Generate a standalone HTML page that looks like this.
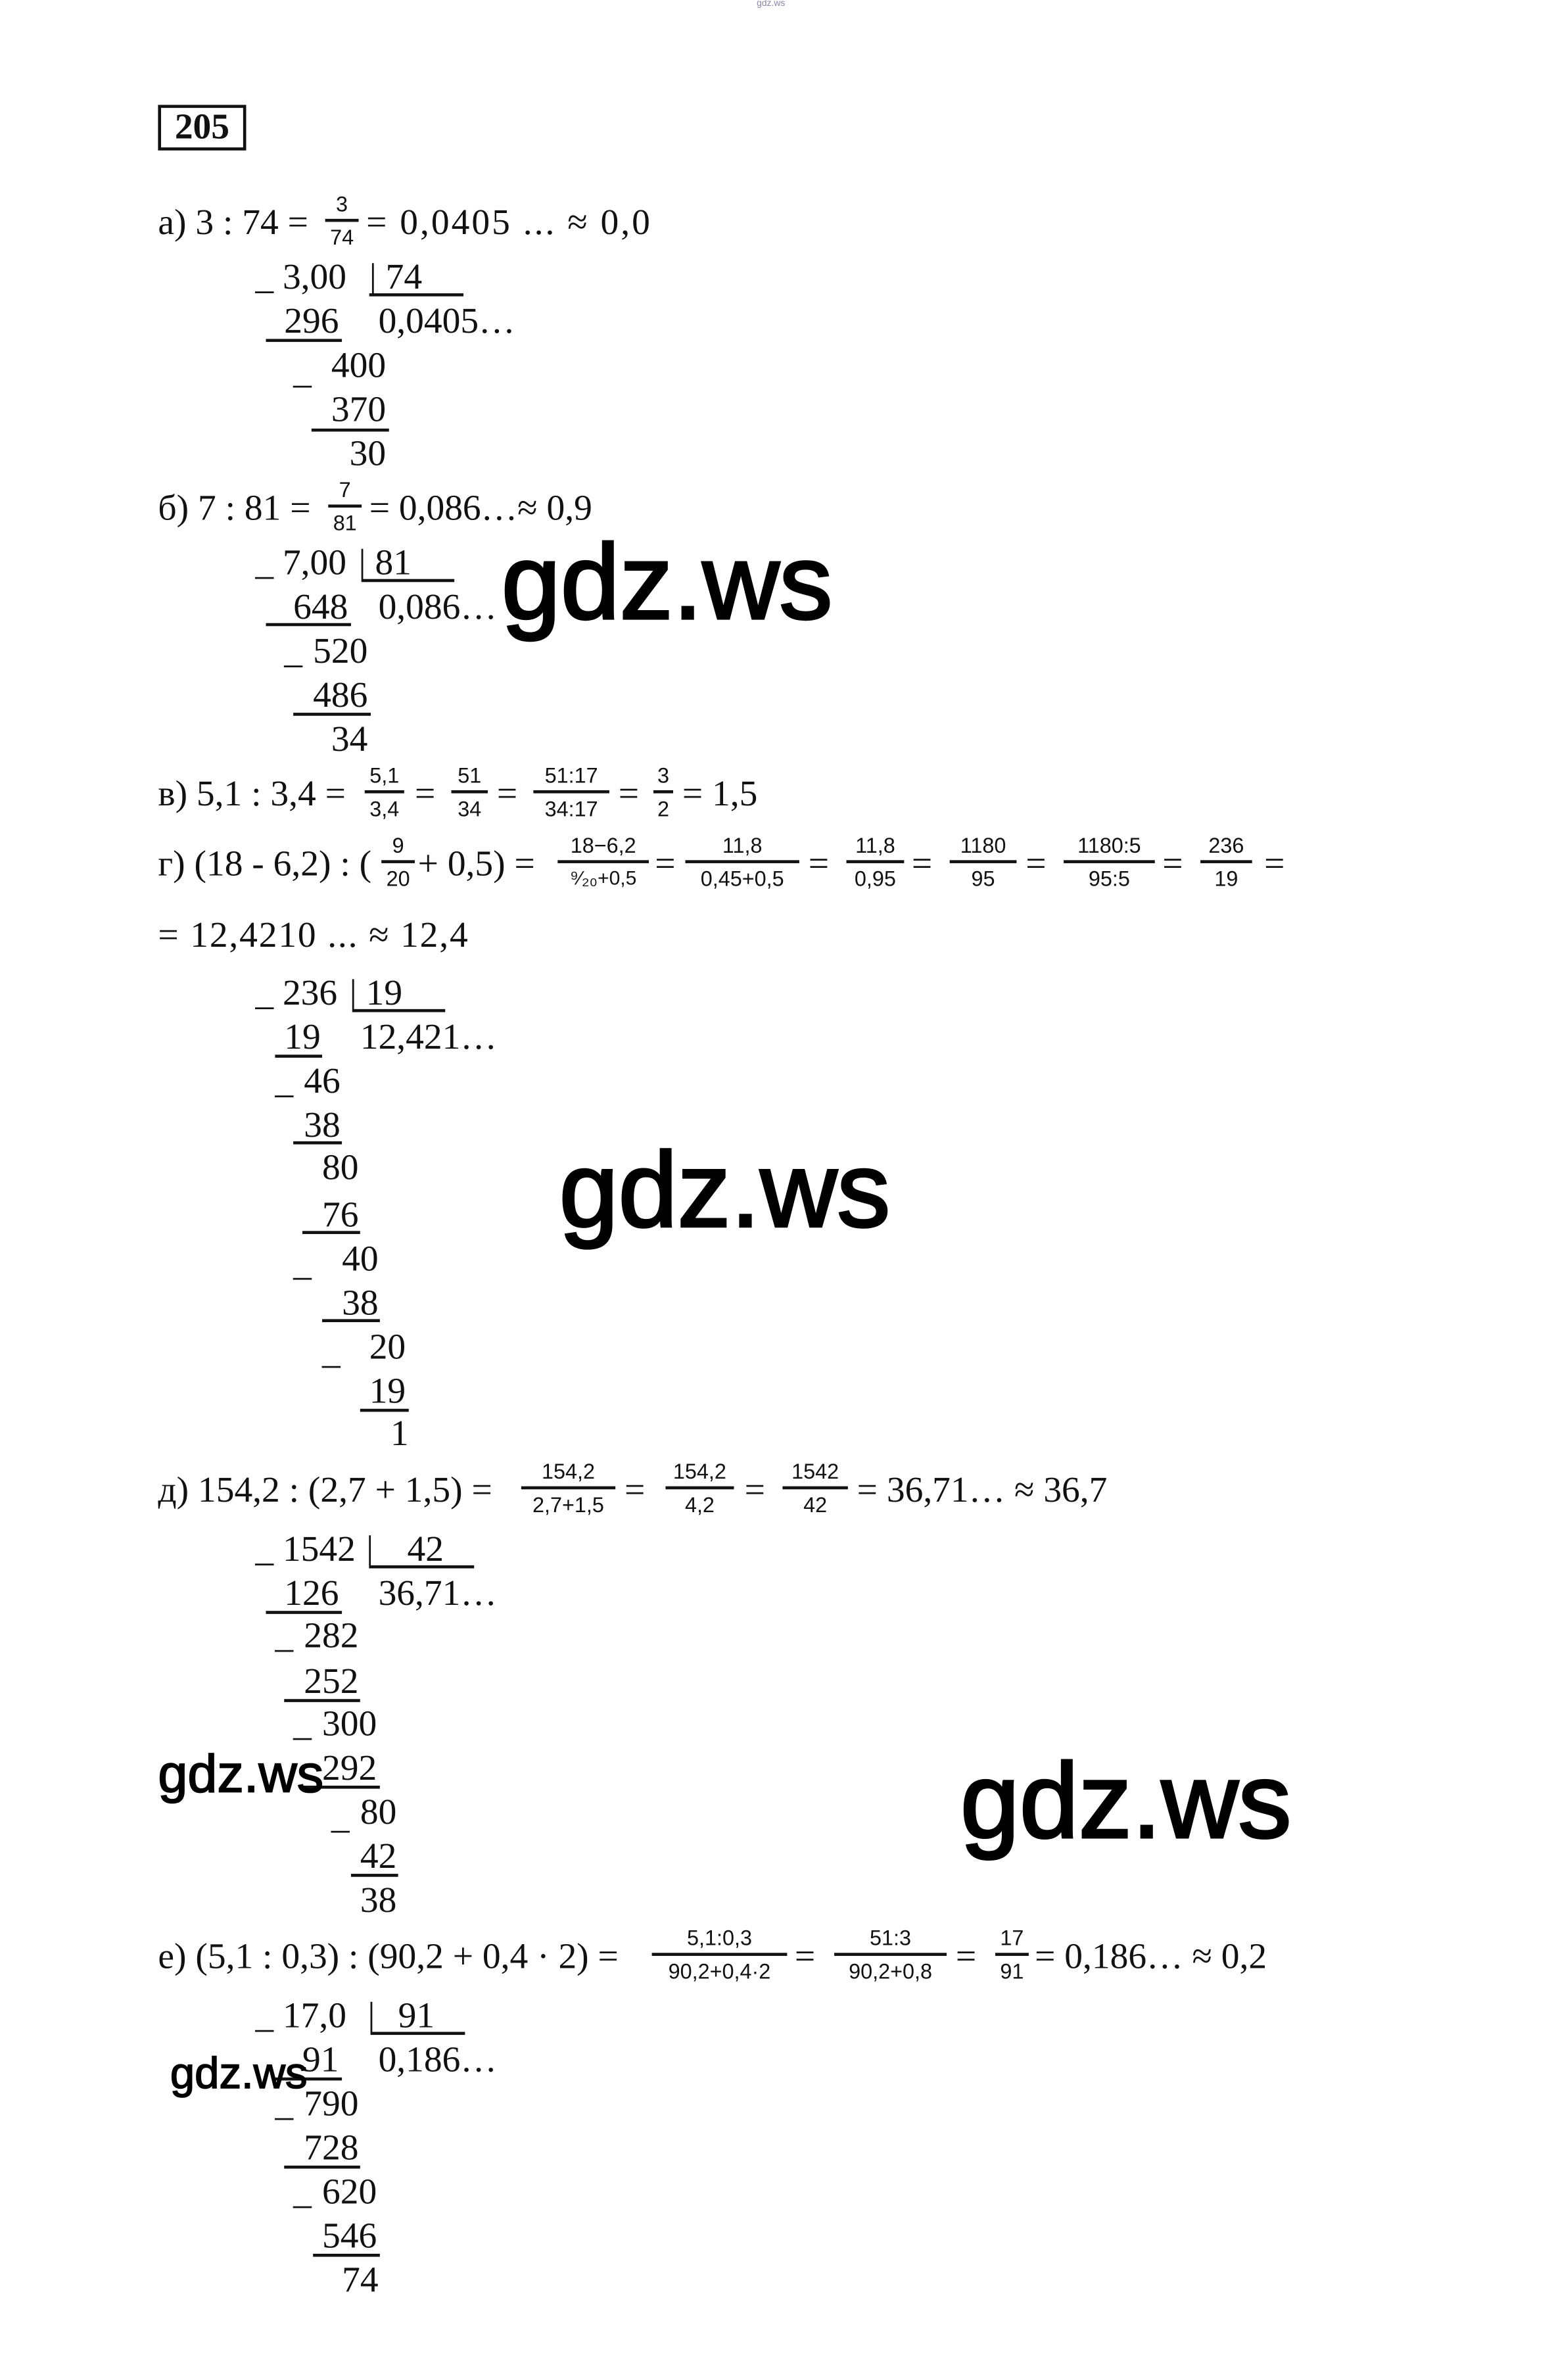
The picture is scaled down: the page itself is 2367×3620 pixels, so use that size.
<!DOCTYPE html>
<html><head><meta charset="utf-8">
<style>
html,body{margin:0;padding:0;background:#fff;}
body{width:2367px;height:3619px;overflow:hidden;position:relative;}
#c{position:absolute;left:0;top:0;width:1024px;height:1566px;transform:scale(2.3115);transform-origin:0 0;font-family:"Liberation Serif",serif;color:#111;}
.t{position:absolute;font-size:24px;line-height:24px;white-space:pre;}
.u{position:absolute;height:1.5px;background:#111;}
.f{position:absolute;display:flex;flex-direction:column;align-items:center;font-family:"Liberation Sans",sans-serif;font-size:14px;line-height:16px;}
.f b{display:block;height:2px;background:#111;width:100%;margin:2px 0;}
.w{position:absolute;font-family:"Liberation Sans",sans-serif;color:#000;white-space:pre;-webkit-text-stroke:1.6px #000;}
</style></head><body><div id="c">
<div class="w" style="left:498px;top:0px;font-size:6px;color:#88a;-webkit-text-stroke:0">gdz.ws</div>
<div style="position:absolute;left:104px;top:69px;width:54px;height:26px;border:2px solid #111;font-weight:bold;font-size:24px;line-height:26px;text-align:center">205</div>

<!-- a -->
<div class="t" style="left:104px;top:135px">а) 3 : 74 =</div>
<div class="f" style="left:214px;top:126px;width:22px"><span>3</span><b></b><span>74</span></div>
<div class="t" style="left:241px;top:135px;letter-spacing:1.3px">= 0,0405 ... ≈ 0,0</div>
<div class="t" style="left:168px;top:171px">_ 3,00</div><div class="t" style="left:243px;top:171px">| 74</div><div class="u" style="left:243px;top:193px;width:62px"></div>
<div class="t" style="left:187px;top:200px">296</div><div class="u" style="left:175px;top:223px;width:50px"></div><div class="t" style="left:249px;top:200px">0,0405…</div>
<div class="t" style="left:193px;top:233px">_</div><div class="t" style="left:218px;top:229px">400</div>
<div class="t" style="left:218px;top:258px">370</div><div class="u" style="left:205px;top:282px;width:51px"></div>
<div class="t" style="left:230px;top:287px">30</div>

<!-- b -->
<div class="t" style="left:104px;top:323px">б) 7 : 81 =</div>
<div class="f" style="left:216px;top:314px;width:22px"><span>7</span><b></b><span>81</span></div>
<div class="t" style="left:243px;top:323px">= 0,086…≈ 0,9</div>
<div class="t" style="left:168px;top:359px">_ 7,00</div><div class="t" style="left:236px;top:359px">| 81</div><div class="u" style="left:238px;top:381px;width:61px"></div>
<div class="t" style="left:193px;top:388px">648</div><div class="u" style="left:175px;top:410px;width:56px"></div><div class="t" style="left:249px;top:388px">0,086…</div>
<div class="t" style="left:187px;top:417px">_</div><div class="t" style="left:206px;top:417px">520</div>
<div class="t" style="left:206px;top:446px">486</div><div class="u" style="left:193px;top:469px;width:51px"></div>
<div class="t" style="left:218px;top:475px">34</div>
<div class="w" style="left:330px;top:343px;font-size:70px;line-height:80px">gdz.ws</div>

<!-- v -->
<div class="t" style="left:104px;top:511px">в) 5,1 : 3,4 =</div>
<div class="f" style="left:240px;top:502px;width:26px"><span>5,1</span><b></b><span>3,4</span></div>
<div class="t" style="left:273px;top:511px">=</div>
<div class="f" style="left:297px;top:502px;width:24px"><span>51</span><b></b><span>34</span></div>
<div class="t" style="left:327px;top:511px">=</div>
<div class="f" style="left:351px;top:502px;width:50px"><span>51:17</span><b></b><span>34:17</span></div>
<div class="t" style="left:407px;top:511px">=</div>
<div class="f" style="left:430px;top:502px;width:13px"><span>3</span><b></b><span>2</span></div>
<div class="t" style="left:449px;top:511px">= 1,5</div>

<!-- g -->
<div class="t" style="left:104px;top:557px">г) (18 - 6,2) : (</div>
<div class="f" style="left:251px;top:548px;width:22px"><span>9</span><b></b><span>20</span></div>
<div class="t" style="left:275px;top:557px">+ 0,5) =</div>
<div class="f" style="left:367px;top:548px;width:60px"><span>18−6,2</span><b></b><span style="font-size:13px">⁹⁄₂₀+0,5</span></div>
<div class="t" style="left:431px;top:557px">=</div>
<div class="f" style="left:451px;top:548px;width:75px"><span>11,8</span><b></b><span>0,45+0,5</span></div>
<div class="t" style="left:532px;top:557px">=</div>
<div class="f" style="left:557px;top:548px;width:38px"><span>11,8</span><b></b><span>0,95</span></div>
<div class="t" style="left:600px;top:557px">=</div>
<div class="f" style="left:625px;top:548px;width:44px"><span>1180</span><b></b><span>95</span></div>
<div class="t" style="left:675px;top:557px">=</div>
<div class="f" style="left:700px;top:548px;width:60px"><span>1180:5</span><b></b><span>95:5</span></div>
<div class="t" style="left:765px;top:557px">=</div>
<div class="f" style="left:790px;top:548px;width:34px"><span>236</span><b></b><span>19</span></div>
<div class="t" style="left:832px;top:557px">=</div>
<div class="t" style="left:104px;top:604px;letter-spacing:0.8px">= 12,4210 ... ≈ 12,4</div>

<div class="t" style="left:168px;top:642px">_ 236</div><div class="t" style="left:230px;top:642px">| 19</div><div class="u" style="left:232px;top:664px;width:61px"></div>
<div class="t" style="left:187px;top:671px">19</div><div class="u" style="left:181px;top:694px;width:31px"></div><div class="t" style="left:237px;top:671px">12,421…</div>
<div class="t" style="left:181px;top:700px">_</div><div class="t" style="left:200px;top:700px">46</div>
<div class="t" style="left:200px;top:729px">38</div><div class="u" style="left:193px;top:751px;width:32px"></div>
<div class="t" style="left:212px;top:757px">80</div>
<div class="t" style="left:212px;top:788px">76</div><div class="u" style="left:199px;top:810px;width:38px"></div>
<div class="t" style="left:193px;top:820px">_</div><div class="t" style="left:225px;top:817px">40</div>
<div class="t" style="left:225px;top:846px">38</div><div class="u" style="left:212px;top:868px;width:38px"></div>
<div class="t" style="left:212px;top:878px">_</div><div class="t" style="left:243px;top:875px">20</div>
<div class="t" style="left:243px;top:904px">19</div><div class="u" style="left:237px;top:927px;width:32px"></div>
<div class="t" style="left:257px;top:932px">1</div>
<div class="w" style="left:368px;top:743px;font-size:70px;line-height:80px">gdz.ws</div>

<!-- d -->
<div class="t" style="left:104px;top:969px">д) 154,2 : (2,7 + 1,5) =</div>
<div class="f" style="left:343px;top:960px;width:62px"><span>154,2</span><b></b><span>2,7+1,5</span></div>
<div class="t" style="left:411px;top:969px">=</div>
<div class="f" style="left:438px;top:960px;width:45px"><span>154,2</span><b></b><span>4,2</span></div>
<div class="t" style="left:490px;top:969px">=</div>
<div class="f" style="left:515px;top:960px;width:43px"><span>1542</span><b></b><span>42</span></div>
<div class="t" style="left:564px;top:969px">= 36,71… ≈ 36,7</div>
<div class="t" style="left:168px;top:1008px">_ 1542</div><div class="t" style="left:241px;top:1008px">|</div><div class="t" style="left:268px;top:1008px">42</div><div class="u" style="left:244px;top:1030px;width:68px"></div>
<div class="t" style="left:187px;top:1037px">126</div><div class="u" style="left:175px;top:1060px;width:50px"></div><div class="t" style="left:249px;top:1037px">36,71…</div>
<div class="t" style="left:181px;top:1065px">_</div><div class="t" style="left:200px;top:1065px">282</div>
<div class="t" style="left:200px;top:1095px">252</div><div class="u" style="left:187px;top:1118px;width:50px"></div>
<div class="t" style="left:193px;top:1123px">_</div><div class="t" style="left:212px;top:1123px">300</div>
<div class="t" style="left:212px;top:1152px">292</div><div class="u" style="left:199px;top:1175px;width:51px"></div>
<div class="t" style="left:218px;top:1184px">_</div><div class="t" style="left:237px;top:1181px">80</div>
<div class="t" style="left:237px;top:1210px">42</div><div class="u" style="left:231px;top:1233px;width:31px"></div>
<div class="t" style="left:237px;top:1239px">38</div>
<div class="w" style="left:104px;top:1148px;font-size:35px;line-height:40px;-webkit-text-stroke:0.8px #000">gdz.ws</div>
<div class="w" style="left:632px;top:1145px;font-size:70px;line-height:80px">gdz.ws</div>

<!-- e -->
<div class="t" style="left:104px;top:1276px">е) (5,1 : 0,3) : (90,2 + 0,4 · 2) =</div>
<div class="f" style="left:429px;top:1267px;width:89px"><span>5,1:0,3</span><b></b><span>90,2+0,4·2</span></div>
<div class="t" style="left:523px;top:1276px">=</div>
<div class="f" style="left:549px;top:1267px;width:74px"><span>51:3</span><b></b><span>90,2+0,8</span></div>
<div class="t" style="left:629px;top:1276px">=</div>
<div class="f" style="left:655px;top:1267px;width:22px"><span>17</span><b></b><span>91</span></div>
<div class="t" style="left:681px;top:1276px">= 0,186… ≈ 0,2</div>
<div class="t" style="left:168px;top:1315px">_ 17,0</div><div class="t" style="left:242px;top:1315px">|</div><div class="t" style="left:262px;top:1315px">91</div><div class="u" style="left:244px;top:1337px;width:62px"></div>
<div class="t" style="left:199px;top:1344px">91</div><div class="u" style="left:181px;top:1367px;width:44px"></div><div class="t" style="left:249px;top:1344px">0,186…</div>
<div class="w" style="left:112px;top:1348px;font-size:29px;line-height:34px;-webkit-text-stroke:0.7px #000">gdz.ws</div>
<div class="t" style="left:181px;top:1373px">_</div><div class="t" style="left:200px;top:1373px">790</div>
<div class="t" style="left:200px;top:1402px">728</div><div class="u" style="left:187px;top:1425px;width:50px"></div>
<div class="t" style="left:193px;top:1431px">_</div><div class="t" style="left:212px;top:1431px">620</div>
<div class="t" style="left:212px;top:1460px">546</div><div class="u" style="left:206px;top:1483px;width:44px"></div>
<div class="t" style="left:225px;top:1489px">74</div>
</div></body></html>
